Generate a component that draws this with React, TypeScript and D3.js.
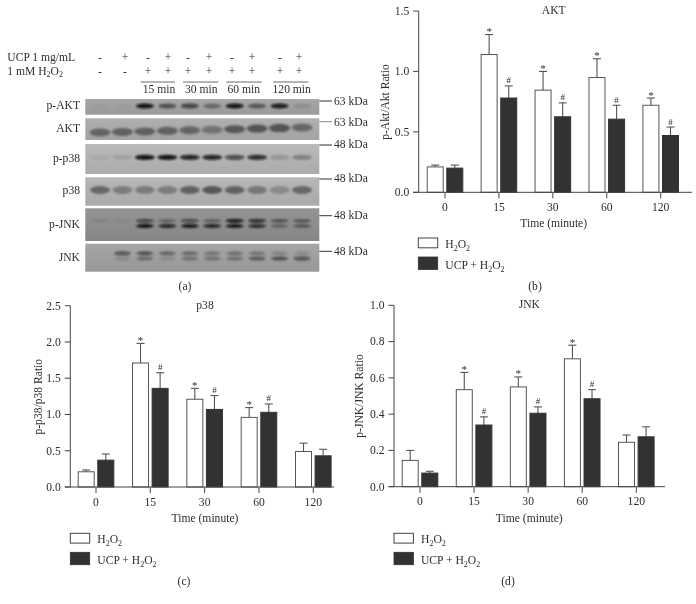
import React from "react";
import * as d3 from "d3";

const FONT = "'Liberation Serif', serif";
const INK = "#2e2e2e";

// ---- bar chart data ----
const timeLabels = ["0", "15", "30", "60", "120"];
const aktH2O2 = [0.21, 1.14, 0.845, 0.95, 0.72];
const aktH2O2Top = [0.225, 1.305, 1.0, 1.105, 0.78];
const aktUcp = [0.2, 0.78, 0.625, 0.605, 0.47];
const aktUcpTop = [0.225, 0.88, 0.74, 0.72, 0.54];
const aktStarFlags = [false, true, true, true, true];
const aktHashFlags = [false, true, true, true, true];

const p38H2O2 = [0.21, 1.71, 1.21, 0.96, 0.49];
const p38H2O2Top = [0.235, 1.98, 1.36, 1.095, 0.605];
const p38Ucp = [0.37, 1.36, 1.07, 1.03, 0.43];
const p38UcpTop = [0.455, 1.575, 1.26, 1.145, 0.52];
const p38StarFlags = [false, true, true, true, false];
const p38HashFlags = [false, true, true, true, false];

const jnkH2O2 = [0.145, 0.535, 0.55, 0.705, 0.245];
const jnkH2O2Top = [0.2, 0.63, 0.605, 0.78, 0.285];
const jnkUcp = [0.075, 0.34, 0.405, 0.485, 0.275];
const jnkUcpTop = [0.085, 0.385, 0.44, 0.535, 0.33];
const jnkStarFlags = [false, true, true, true, false];
const jnkHashFlags = [false, true, true, true, false];

const aktTicks = [0, 0.5, 1, 1.5];
const p38Ticks = [0, 0.5, 1, 1.5, 2, 2.5];
const jnkTicks = [0, 0.2, 0.4, 0.6, 0.8, 1];

// ---- blot band intensities per lane (0-1) ----
const lanes = ["c1", "c2", "15a", "15b", "30a", "30b", "60a", "60b", "120a", "120b"];
const pAktBand = [0.03, 0.03, 0.95, 0.5, 0.65, 0.35, 0.95, 0.45, 0.9, 0.12];
const aktBand = [0.4, 0.42, 0.42, 0.42, 0.4, 0.32, 0.48, 0.5, 0.58, 0.4];
const pP38Band = [0.06, 0.1, 0.95, 0.95, 0.85, 0.85, 0.62, 0.8, 0.16, 0.28];
const p38Band = [0.42, 0.3, 0.3, 0.3, 0.45, 0.5, 0.45, 0.32, 0.22, 0.42];
const pJnkUpper = [0.1, 0.07, 0.6, 0.3, 0.55, 0.35, 0.95, 0.8, 0.45, 0.42];
const pJnkLower = [0, 0, 1, 0.85, 0.95, 0.85, 0.95, 0.8, 0.3, 0.4];
const jnkUpper = [0, 0.55, 0.5, 0.38, 0.35, 0.28, 0.3, 0.28, 0.18, 0.12];
const jnkLower = [0, 0.12, 0.32, 0.12, 0.28, 0.28, 0.3, 0.42, 0.5, 0.55];

const ucpSigns = ["-", "+", "-", "+", "-", "+", "-", "+", "-", "+"];
const h2o2Signs = ["-", "-", "+", "+", "+", "+", "+", "+", "+", "+"];
const minuteGroups = ["15 min", "30 min", "60 min", "120 min"];
const rowNames = ["p-AKT", "AKT", "p-p38", "p38", "p-JNK", "JNK"];
const kdaLabels = ["63 kDa", "63 kDa", "48 kDa", "48 kDa", "48 kDa", "48 kDa"];

// ---- layout ----
const laneX = d3.scalePoint<string>().domain(lanes).range([100, 302]);
const signX = [100, 125, 148, 168, 188, 209, 232, 252, 280, 299];
const groupSpans = [[140.7, 175], [183, 218.3], [226.3, 261.7], [273, 308.3]];
const groupCenters = [159, 201.3, 243.7, 291.7];
const rowLayout = [
  { top: 99, bottom: 114.7, fill: "#a2a2a2", label: 109, kdaLine: 101, kdaText: 104.5 },
  { top: 118.3, bottom: 140, fill: "#ababab", label: 132, kdaLine: 121.7, kdaText: 125.5 },
  { top: 144, bottom: 174, fill: "#b5b5b5", label: 162, kdaLine: 145, kdaText: 148 },
  { top: 177.3, bottom: 205.7, fill: "#b3b3b3", label: 194, kdaLine: 179, kdaText: 182 },
  { top: 208.3, bottom: 241, fill: "#8e8e8e", label: 228, kdaLine: 215.7, kdaText: 219 },
  { top: 243.7, bottom: 271.7, fill: "#a0a0a0", label: 261, kdaLine: 251.3, kdaText: 255 },
];
const aktTilt = d3.scaleLinear().domain([0, 9]).range([132.5, 127.5]);
const bandRows = [
  { values: pAktBand, y: () => 106, ry: 2.4, rx: 9 },
  { values: aktBand, y: (i: number) => aktTilt(i), ry: 4, rx: 10.5 },
  { values: pP38Band, y: () => 157.3, ry: 2.6, rx: 10 },
  { values: p38Band, y: () => 190, ry: 4, rx: 10 },
  { values: pJnkUpper, y: () => 220.7, ry: 1.7, rx: 9 },
  { values: pJnkLower, y: () => 226, ry: 1.9, rx: 9 },
  { values: jnkUpper, y: () => 253.3, ry: 2, rx: 8.5 },
  { values: jnkLower, y: () => 258.5, ry: 2, rx: 8.5 },
];

function Sub({ text }: { text: string }) {
  return (
    <>
      {text}
      <tspan dy={2.5} fontSize="8">2</tspan>
      <tspan dy={-2.5}>O</tspan>
      <tspan dy={2.5} fontSize="8">2</tspan>
    </>
  );
}

function Txt(props: any) {
  return <text fontFamily={FONT} fontSize={11.6} fill={INK} {...props} />;
}

function Blot() {
  return (
    <g>
      <defs>
        <filter id="bandBlur" x="-30%" y="-60%" width="160%" height="220%">
          <feGaussianBlur stdDeviation="1.2 0.9" />
        </filter>
        <linearGradient id="shade" x1="0" y1="0" x2="0" y2="1">
          <stop offset="0" stopColor="#fff" stopOpacity="0.06" />
          <stop offset="1" stopColor="#000" stopOpacity="0.05" />
        </linearGradient>
        {rowLayout.map((r, i) => (
          <clipPath id={`row${i}`} key={i}>
            <rect x={85.3} y={r.top} width={234} height={r.bottom - r.top} />
          </clipPath>
        ))}
      </defs>
      {rowLayout.map((r, i) => (
        <g key={i}>
          <rect x={85.3} y={r.top} width={234} height={r.bottom - r.top} fill={r.fill} />
          <rect x={85.3} y={r.top} width={234} height={r.bottom - r.top} fill="url(#shade)" />
          <Txt x={80} y={r.label} textAnchor="end">{rowNames[i]}</Txt>
          <line x1={319.3} x2={332} y1={r.kdaLine} y2={r.kdaLine} stroke={i === 1 ? "#888" : "#333"} strokeWidth={1} />
          <Txt x={334} y={r.kdaText}>{kdaLabels[i]}</Txt>
        </g>
      ))}
      <g filter="url(#bandBlur)">
        {bandRows.map((row, ri) =>
          row.values.map((v, i) => (
            <ellipse
              key={`${ri}-${i}`}
              cx={laneX(lanes[i])}
              cy={row.y(i)}
              rx={row.rx}
              ry={row.ry}
              fill="#0c0c0c"
              opacity={v}
            />
          ))
        )}
      </g>
      <Txt x={7.3} y={60.7}>UCP 1 mg/mL</Txt>
      <Txt x={7.3} y={74.7}><Sub text="1 mM H" /></Txt>
      {ucpSigns.map((s, i) => (
        <Txt key={i} x={signX[i]} y={60.7} textAnchor="middle">{s}</Txt>
      ))}
      {h2o2Signs.map((s, i) => (
        <Txt key={i} x={signX[i]} y={74.7} textAnchor="middle">{s}</Txt>
      ))}
      {minuteGroups.map((m, i) => (
        <g key={m}>
          <line x1={groupSpans[i][0]} x2={groupSpans[i][1]} y1={82} y2={82} stroke="#444" strokeWidth={0.8} />
          <Txt x={groupCenters[i]} y={92.7} textAnchor="middle">{m}</Txt>
        </g>
      ))}
      <Txt x={185} y={290} textAnchor="middle">(a)</Txt>
    </g>
  );
}

interface PanelProps {
  title: string;
  yLabel: string;
  tag: string;
  white: number[];
  whiteTop: number[];
  dark: number[];
  darkTop: number[];
  stars: boolean[];
  hashes: boolean[];
  ticks: number[];
  fmt: string;
  yMax: number;
  xAxis: number;
  xEnd: number;
  firstCenter: number;
  lastCenter: number;
  y0: number;
  yTop: number;
  yLabelX: number;
  yLabelY: number;
  legendX: number;
  legendY: number;
  tagX: number;
  tagY: number;
  titleX: number;
}

function Panel(p: PanelProps) {
  const y = d3.scaleLinear().domain([0, p.yMax]).range([p.y0, p.yTop]);
  const x = d3.scalePoint<string>().domain(timeLabels).range([p.firstCenter, p.lastCenter]);
  const fmt = d3.format(p.fmt);
  const barW = 16;
  const off = 9.8;
  const series = [
    { v: p.white, top: p.whiteTop, flags: p.stars, mark: "*", dx: -off, fill: "#fff", stroke: "#555" },
    { v: p.dark, top: p.darkTop, flags: p.hashes, mark: "#", dx: off, fill: "#333", stroke: "#333" },
  ];
  return (
    <g>
      <Txt x={p.titleX} y={p.yTop + 3} textAnchor="middle">{p.title}</Txt>
      {series.map((s, si) => (
        <g key={si}>
          {s.v.map((v, i) => {
            const cx = (x(timeLabels[i]) as number) + s.dx;
            const top = y(s.top[i]);
            return (
              <g key={i}>
                <line x1={cx} x2={cx} y1={y(v)} y2={top} stroke="#555" strokeWidth={1.1} />
                <line x1={cx - 4} x2={cx + 4} y1={top} y2={top} stroke="#555" strokeWidth={1.1} />
                <rect x={cx - barW / 2} y={y(v)} width={barW} height={p.y0 - y(v)} fill={s.fill} stroke={s.stroke} strokeWidth={1} />
                {s.flags[i] && (
                  <Txt x={cx} y={top - (s.mark === "*" ? -0.5 : 2.5)} textAnchor="middle" fontSize={s.mark === "*" ? 11 : 9}>{s.mark}</Txt>
                )}
              </g>
            );
          })}
        </g>
      ))}
      <line x1={p.xAxis} x2={p.xAxis} y1={p.yTop} y2={p.y0} stroke="#444" strokeWidth={1} />
      <line x1={p.xAxis - 5.5} x2={p.xEnd} y1={p.y0} y2={p.y0} stroke="#444" strokeWidth={1} />
      {p.ticks.map((t) => (
        <g key={t}>
          <line x1={p.xAxis - 5.5} x2={p.xAxis} y1={y(t)} y2={y(t)} stroke="#444" strokeWidth={1} />
          <Txt x={p.xAxis - 9.5} y={y(t) + 3.8} textAnchor="end">{fmt(t)}</Txt>
        </g>
      ))}
      {timeLabels.map((t) => (
        <g key={t}>
          <line x1={x(t)} x2={x(t)} y1={p.y0} y2={p.y0 + 6} stroke="#444" strokeWidth={1} />
          <Txt x={x(t)} y={p.y0 + 18.5} textAnchor="middle">{t}</Txt>
        </g>
      ))}
      <Txt x={p.titleX} y={p.y0 + 35} textAnchor="middle">Time (minute)</Txt>
      <Txt transform={`translate(${p.yLabelX},${p.yLabelY}) rotate(-90)`} textAnchor="middle">{p.yLabel}</Txt>
      <rect x={p.legendX} y={p.legendY} width={19.4} height={9.8} fill="#fff" stroke="#444" strokeWidth={1} />
      <Txt x={p.legendX + 27} y={p.legendY + 10}><Sub text="H" /></Txt>
      <rect x={p.legendX} y={p.legendY + 19} width={19.4} height={12.4} fill="#333" stroke="#333" strokeWidth={0.8} />
      <Txt x={p.legendX + 27} y={p.legendY + 31}><Sub text="UCP + H" /></Txt>
      <Txt x={p.tagX} y={p.tagY} textAnchor="middle">{p.tag}</Txt>
    </g>
  );
}

export default function App() {
  return (
    <svg width={696} height={604} style={{ position: "absolute", left: 0, top: 0, background: "#fff" }}>
      <defs>
        <filter id="soft" x="0" y="0" width="100%" height="100%">
          <feGaussianBlur stdDeviation="0.3" />
        </filter>
      </defs>
      <g filter="url(#soft)">
        <Blot />
        <Panel
          title="AKT" yLabel="p-Akt/Akt Ratio" tag="(b)"
          white={aktH2O2} whiteTop={aktH2O2Top} dark={aktUcp} darkTop={aktUcpTop}
          stars={aktStarFlags} hashes={aktHashFlags} ticks={aktTicks} fmt=".1f" yMax={1.5}
          xAxis={418.7} xEnd={692} firstCenter={445} lastCenter={660.7} y0={192.3} yTop={11}
          yLabelX={389} yLabelY={102} legendX={418.3} legendY={238} tagX={535} tagY={290} titleX={553.7}
        />
        <Panel
          title="p38" yLabel="p-p38/p38 Ratio" tag="(c)"
          white={p38H2O2} whiteTop={p38H2O2Top} dark={p38Ucp} darkTop={p38UcpTop}
          stars={p38StarFlags} hashes={p38HashFlags} ticks={p38Ticks} fmt=".1f" yMax={2.5}
          xAxis={70.3} xEnd={334} firstCenter={96} lastCenter={313.3} y0={487} yTop={305.7}
          yLabelX={42} yLabelY={396.7} legendX={70.3} legendY={533.3} tagX={184} tagY={585} titleX={205}
        />
        <Panel
          title="JNK" yLabel="p-JNK/JNK Ratio" tag="(d)"
          white={jnkH2O2} whiteTop={jnkH2O2Top} dark={jnkUcp} darkTop={jnkUcpTop}
          stars={jnkStarFlags} hashes={jnkHashFlags} ticks={jnkTicks} fmt=".1f" yMax={1}
          xAxis={394} xEnd={665} firstCenter={420} lastCenter={636.3} y0={486.7} yTop={305.3}
          yLabelX={363} yLabelY={396} legendX={394} legendY={533.3} tagX={508} tagY={585} titleX={529.3}
        />
      </g>
    </svg>
  );
}
